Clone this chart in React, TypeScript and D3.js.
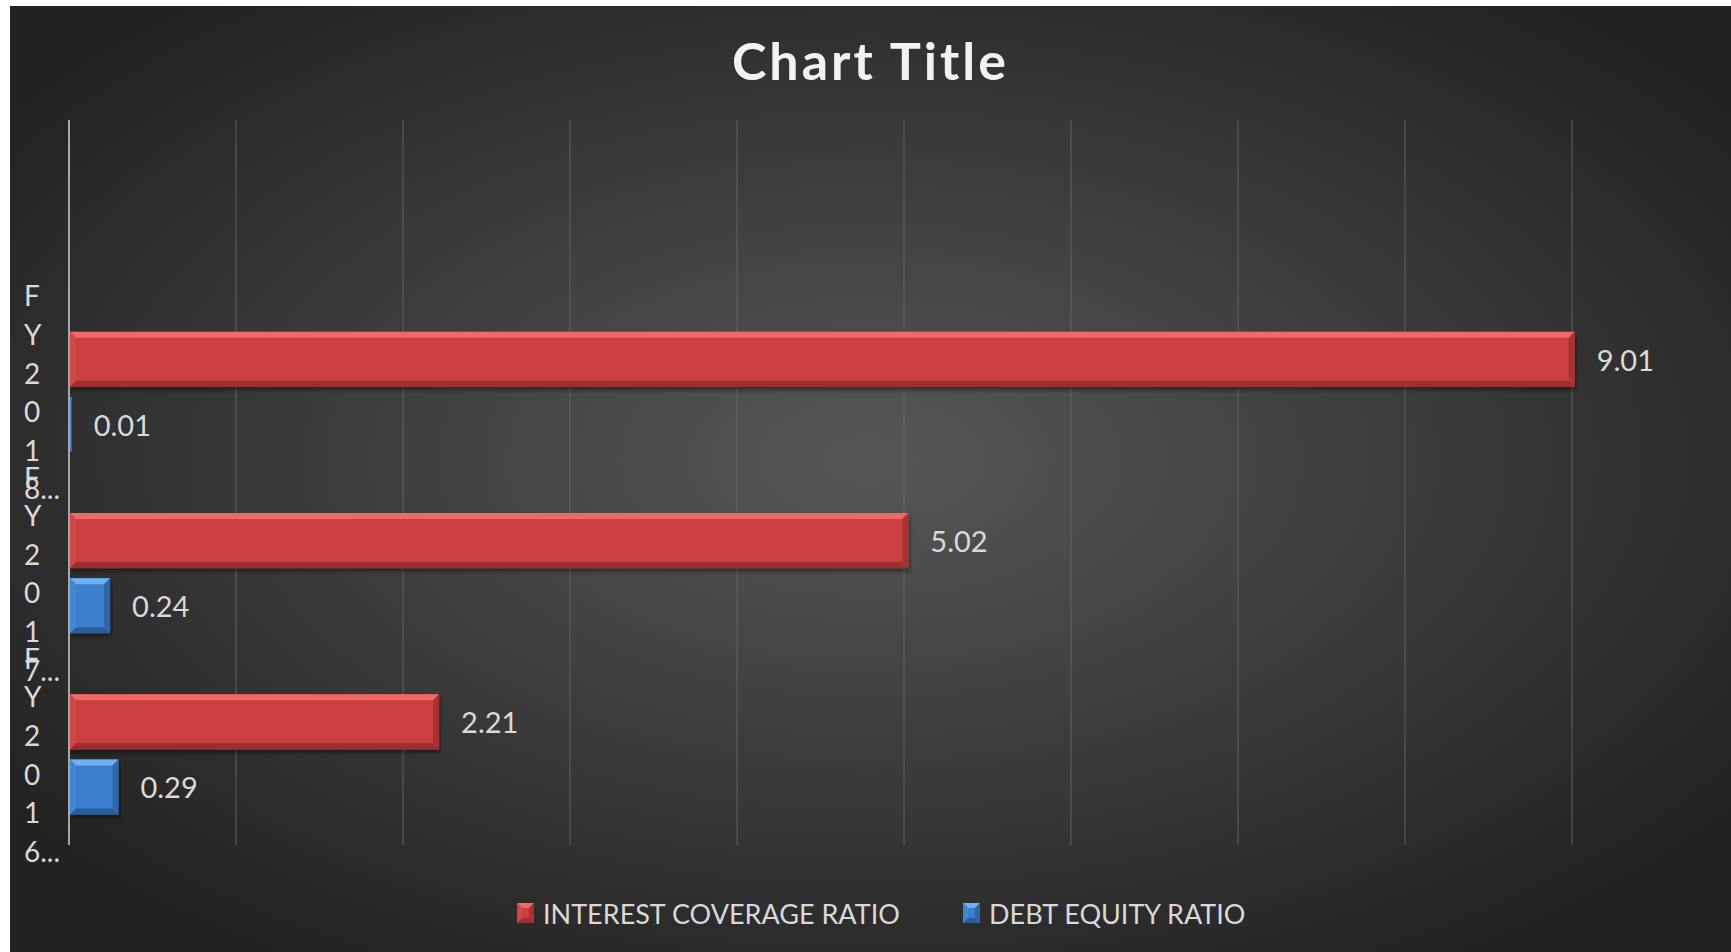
import React from "react";
import * as d3 from "d3";

// categories, bottom to top (the top slot is an empty category in the source sheet)
const categories = ["FY2016", "FY2017", "FY2018", ""];
const seriesNames = ["INTEREST COVERAGE RATIO", "DEBT EQUITY RATIO"];
const interestCoverage = [2.21, 5.02, 9.01, null];
const debtEquity = [0.29, 0.24, 0.01, null];
const xTicks = [0, 1, 2, 3, 4, 5, 6, 7, 8, 9];

const W = 1731;
const H = 952;
const FONT = "Lato, Calibri, 'Noto Sans', sans-serif";

const palettes = [
  { body: "#ca4040", top: "#f06868", bottom: "#9c2f2f", left: "#d04646", right: "#a83333" },
  { body: "#3c7fcf", top: "#6eb0f0", bottom: "#2a5b9b", left: "#4286d3", right: "#2f66a9" },
];

type Pal = (typeof palettes)[number];

function BevelRect({ x, y, w, h, pal, b = 5 }: { x: number; y: number; w: number; h: number; pal: Pal; b?: number }) {
  const bb = Math.min(b, w / 2, h / 2);
  if (w <= 0) return null;
  const x1 = x + w;
  const y1 = y + h;
  return (
    <g>
      <rect x={x} y={y} width={w} height={h} fill={pal.body} />
      <polygon points={`${x},${y} ${x1},${y} ${x1 - bb},${y + bb} ${x + bb},${y + bb}`} fill={pal.top} />
      <polygon points={`${x},${y1} ${x1},${y1} ${x1 - bb},${y1 - bb} ${x + bb},${y1 - bb}`} fill={pal.bottom} />
      <polygon points={`${x},${y} ${x + bb},${y + bb} ${x + bb},${y1 - bb} ${x},${y1}`} fill={pal.left} />
      <polygon points={`${x1},${y} ${x1 - bb},${y + bb} ${x1 - bb},${y1 - bb} ${x1},${y1}`} fill={pal.right} />
    </g>
  );
}

export default function App() {
  const plotTop = 120;
  const plotBottom = 845;

  const x = d3.scaleLinear().domain([0, 9]).range([69, 1572]);
  const y = d3.scaleBand<string>().domain(categories).range([plotBottom, plotTop]).padding(0);
  const inner = d3
    .scaleBand<number>()
    .domain([0, 1])
    .range([0, y.bandwidth()])
    .paddingInner(0.154)
    .paddingOuter(0.471);

  const series = [interestCoverage, debtEquity];

  return (
    <div style={{ position: "fixed", left: 0, top: 0, width: W, height: H, background: "#fff" }}>
      <svg width={W} height={H} style={{ display: "block", fontFamily: FONT }}>
        <defs>
          <radialGradient id="bg" cx="50%" cy="48%" r="62%">
            <stop offset="0%" stopColor="#575757" />
            <stop offset="100%" stopColor="#222222" />
          </radialGradient>
          <filter id="shadow" x="-5%" y="-20%" width="110%" height="160%">
            <feDropShadow dx="1" dy="3" stdDeviation="2" floodColor="#000" floodOpacity="0.45" />
          </filter>
        </defs>
        <rect x={10} y={6} width={W - 10} height={H - 6} fill="url(#bg)" />

        <text
          x={10 + (W - 10) / 2}
          y={80}
          textAnchor="middle"
          fontSize={52}
          fontWeight={700}
          letterSpacing={3}
          fill="#f2f2f2"
        >
          Chart Title
        </text>

        {/* gridlines */}
        {xTicks.slice(1).map((t) => (
          <line key={t} x1={x(t)} x2={x(t)} y1={plotTop} y2={plotBottom} stroke="#6a6a6a" strokeOpacity={0.7} strokeWidth={1.2} />
        ))}

        {/* bars */}
        {categories.map((c, ci) =>
          series.map((vals, si) => {
            const v = vals[ci];
            if (v == null) return null;
            const by = (y(c) ?? 0) + (inner(si) ?? 0);
            const bh = inner.bandwidth();
            const bx = x(0) + 1;
            const bw = x(v) - x(0);
            return (
              <g key={`${c}-${si}`}>
                <g filter="url(#shadow)">
                  <BevelRect x={bx} y={by} w={bw} h={bh} pal={palettes[si]} b={bw < 10 ? bw / 3 : 6} />
                </g>
                <text x={x(v) + 23} y={by + bh / 2} dominantBaseline="central" fontSize={29} fill="#d9d9d9">
                  {v.toFixed(2)}
                </text>
              </g>
            );
          })
        )}

        {/* value axis line */}
        <line x1={x(0)} x2={x(0)} y1={plotTop} y2={plotBottom} stroke="#a6a6a6" strokeWidth={2} />

        {/* category labels, wrapped one character per line */}
        {categories.map((c) => {
          if (!c) return null;
          const chars = c.split("");
          const lines = chars.map((ch, i) => (i === chars.length - 1 ? ch + "..." : ch));
          const cy = (y(c) ?? 0) + y.bandwidth() / 2;
          const step = 38.6;
          return (
            <g key={c}>
              {lines.map((ln, i) => (
                <text
                  key={i}
                  x={24}
                  y={cy + (i - (lines.length - 1) / 2) * step}
                  dominantBaseline="central"
                  fontSize={28}
                  fill="#d9d9d9"
                >
                  {ln}
                </text>
              ))}
            </g>
          );
        })}

        {/* legend */}
        {seriesNames.map((name, i) => {
          const lx = i === 0 ? 517 : 963;
          return (
            <g key={name}>
              <BevelRect x={lx} y={903} w={17} h={20} pal={palettes[i]} b={5} />
              <text x={lx + 26} y={913} dominantBaseline="central" fontSize={27} fill="#d9d9d9">
                {name}
              </text>
            </g>
          );
        })}
      </svg>
    </div>
  );
}
